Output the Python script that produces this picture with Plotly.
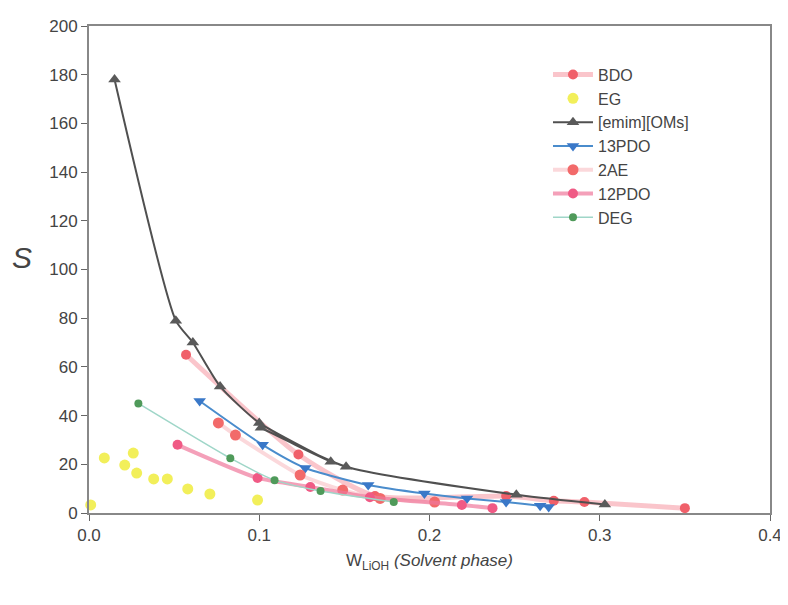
import plotly.graph_objects as go

# ---- data ----
bdo_x = [0.057, 0.123, 0.168, 0.245, 0.273, 0.291, 0.350]
bdo_y = [65, 24, 7, 7, 5, 4.5, 2]

eg_x = [0.001, 0.009, 0.021, 0.026, 0.028, 0.038, 0.046, 0.058, 0.071, 0.099]
eg_y = [3.3, 22.6, 19.7, 24.6, 16.4, 14, 14, 9.9, 7.8, 5.3]

emim_x = [0.015, 0.051, 0.061, 0.077, 0.100, 0.142, 0.101, 0.151, 0.251, 0.303]
emim_y = [178, 79, 70, 52, 37, 21, 35, 19, 7.5, 3.5]

pdo13_x = [0.065, 0.102, 0.127, 0.164, 0.197, 0.222, 0.245, 0.265, 0.270]
pdo13_y = [46, 28, 18.5, 11.5, 8, 6, 4.5, 3, 2.5]

ae2_x = [0.076, 0.086, 0.124, 0.149, 0.171, 0.203]
ae2_y = [37, 32, 15.6, 9.4, 6, 4.5]

pdo12_x = [0.052, 0.099, 0.130, 0.165, 0.219, 0.237]
pdo12_y = [28, 14.4, 10.7, 6.5, 3.3, 2]

deg_x = [0.029, 0.083, 0.109, 0.136, 0.179]
deg_y = [45, 22.5, 13.5, 9, 4.5]

x_ticks = [0.0, 0.1, 0.2, 0.3, 0.4]
y_ticks = list(range(0, 201, 20))

FONT = "Liberation Sans, Arial, sans-serif"

fig = go.Figure()

def add(name, x, y, mcolor, lcolor, symbol, msize, lwidth, mode="lines+markers"):
    fig.add_trace(go.Scatter(
        x=x, y=y, name=name, mode=mode,
        line=dict(color=lcolor, width=lwidth, shape="spline", smoothing=0.6),
        marker=dict(color=mcolor, symbol=symbol, size=msize, line=dict(width=0)),
        cliponaxis=False,
    ))

add("BDO", bdo_x, bdo_y, "#f0606a", "rgba(245,150,160,0.55)", "circle", 10, 5)
add("EG", eg_x, eg_y, "#f2ef5a", "#f2ef5a", "circle", 11, 0, mode="markers")
add("[emim][OMs]", emim_x, emim_y, "#5a5a5a", "#505050", "triangle-up", 11, 2)
add("13PDO", pdo13_x, pdo13_y, "#3a78c8", "#4a8ccc", "triangle-down", 11, 2)
add("2AE", ae2_x, ae2_y, "#f26a6a", "rgba(248,190,195,0.6)", "circle", 11, 4)
add("12PDO", pdo12_x, pdo12_y, "#f05a85", "rgba(240,120,155,0.7)", "circle", 10, 4)
add("DEG", deg_x, deg_y, "#4f9a5a", "#9fd6c8", "circle", 8, 1.5)

axis_font = dict(family=FONT, size=17, color="#444")

fig.update_layout(
    width=780, height=597,
    margin=dict(l=81, r=18, t=18, b=92),
    paper_bgcolor="white", plot_bgcolor="white",
    showlegend=True,
    legend=dict(
        x=0.674, y=0.935, xanchor="left", yanchor="top",
        font=dict(family=FONT, size=16, color="#444"),
        bgcolor="rgba(255,255,255,0)", tracegroupgap=0, itemwidth=40,
    ),
    xaxis=dict(
        range=[0, 0.4], tickvals=x_ticks, tickformat=".1f",
        showgrid=False, zeroline=False, automargin=False,
        showline=True, linecolor="#888", linewidth=2, mirror=True,
        ticks="outside", ticklen=6, tickcolor="#666",
        tickfont=axis_font,
        title=dict(text="W<sub>LiOH</sub> <i>(Solvent phase)</i>",
                   font=dict(family=FONT, size=17, color="#444"),
                   standoff=10),
    ),
    yaxis=dict(
        range=[0, 200], tickvals=y_ticks,
        showgrid=False, zeroline=False, automargin=False,
        showline=True, linecolor="#888", linewidth=2, mirror=True,
        ticks="outside", ticklen=6, tickcolor="#666",
        tickfont=axis_font,
    ),
    annotations=[dict(
        text="<i>S</i>", xref="paper", yref="paper",
        x=-0.098, y=0.525, xanchor="center", yanchor="middle",
        showarrow=False, font=dict(family=FONT, size=30, color="#444"),
    )],
)

fig.write_html("out.html")
